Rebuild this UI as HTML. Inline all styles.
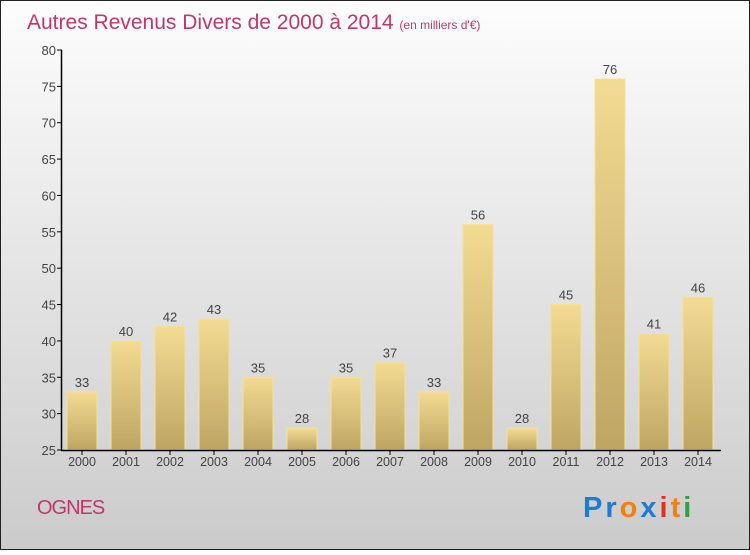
<!DOCTYPE html>
<html><head><meta charset="utf-8"><style>
body{margin:0;width:750px;height:550px;overflow:hidden;font-family:"Liberation Sans",sans-serif}
</style></head><body>
<svg width="750" height="550" xmlns="http://www.w3.org/2000/svg">
<defs>
<linearGradient id="bg" x1="0" y1="0" x2="0" y2="1"><stop offset="0" stop-color="#fdfdfd"/><stop offset="1" stop-color="#cbcbcb"/></linearGradient>
<linearGradient id="bar" x1="0" y1="0" x2="0" y2="1"><stop offset="0" stop-color="#f3db93"/><stop offset="1" stop-color="#bfa563"/></linearGradient>
</defs>
<rect x="0.5" y="0.5" width="749" height="549" fill="url(#bg)" stroke="#222"/>
<text x="27" y="29" font-size="21" fill="#c0386a">Autres Revenus Divers de 2000 à 2014 <tspan font-size="12">(en milliers d'€)</tspan></text>
<g id="plot"></g>
<text x="37" y="514" font-size="20" fill="#c0386a" letter-spacing="-1">OGNES</text>
<text x="583" y="517" font-size="29" font-weight="bold" letter-spacing="3"><tspan fill="#1e7bd0">Pr</tspan><tspan fill="#f08010">o</tspan><tspan fill="#1e7bd0">x</tspan><tspan fill="#e03020">i</tspan><tspan fill="#f08010">t</tspan><tspan fill="#30a040">i</tspan></text>
</svg>
<script>
const years=["2000","2001","2002","2003","2004","2005","2006","2007","2008","2009","2010","2011","2012","2013","2014"];
const values=[33,40,42,43,35,28,35,37,33,56,28,45,76,41,46];
const yTicks=[25,30,35,40,45,50,55,60,65,70,75,80];
const NS="http://www.w3.org/2000/svg";
const g=document.getElementById('plot');
const y=v=>450-(v-25)*400/55;
const xc=i=>82+i*44;
function mk(t,a,p){const e=document.createElementNS(NS,t);for(const k in a)e.setAttribute(k,a[k]);(p||g).appendChild(e);return e;}
yTicks.forEach(v=>{
 const l=mk('line',{x1:57,x2:62,y1:y(v),y2:y(v),stroke:'#000'});
 
 
 const t=mk('text',{x:56,y:y(v)+5,'text-anchor':'end','font-size':13,fill:'#444'});
 t.textContent=v;
 
 
});
values.forEach((v,i)=>{
 const r=mk('rect',{x:xc(i)-15,y:y(v),width:30,height:450-y(v),fill:'url(#bar)',stroke:'#f4e19a','stroke-width':1});
 
 
 const t=mk('text',{x:xc(i),y:y(v)-5,'text-anchor':'middle','font-size':13,fill:'#444'});
 t.textContent=v;
 
 
 const tk=mk('line',{x1:xc(i),x2:xc(i),y1:450,y2:455,stroke:'#000'});
 
 
 const xl=mk('text',{x:xc(i),y:466,'text-anchor':'middle','font-size':12.5,fill:'#444'});
 xl.textContent=years[i];
 
 
});
const ya=mk('line',{x1:61.5,x2:61.5,y1:50,y2:450,stroke:'#000','stroke-width':1.5});


const xa=mk('line',{x1:61,x2:721,y1:450.5,y2:450.5,stroke:'#000','stroke-width':1.5});


</script>
</body></html>
